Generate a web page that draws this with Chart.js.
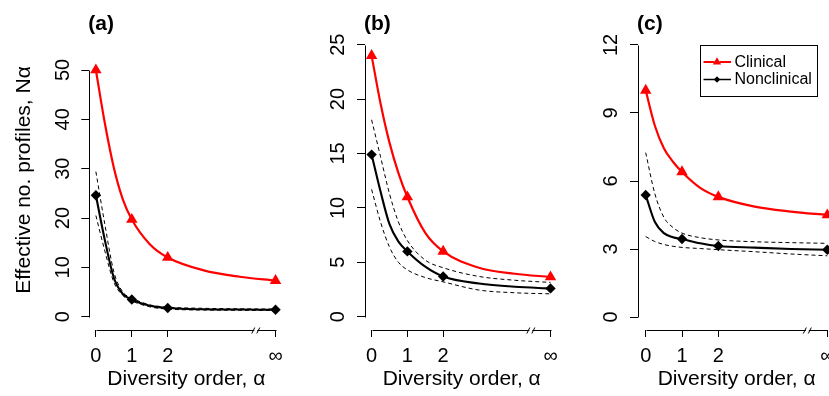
<!DOCTYPE html>
<html><head><meta charset="utf-8">
<script src="https://cdn.jsdelivr.net/npm/chart.js@4.4.1/dist/chart.umd.min.js"></script>
<style>
html,body{margin:0;padding:0;background:#fff;overflow:hidden;width:829px;height:396px;position:relative;}
canvas{position:absolute;top:0;}
</style></head><body>
<canvas id="ca"></canvas><canvas id="cb"></canvas><canvas id="cc"></canvas>
<script>
// ---------------- data ----------------
const panelLabels = ['(a)', '(b)', '(c)'];
const seriesNames = ['Clinical', 'Nonclinical'];
const xTickValues = [0, 1, 2, 5];
const xTickLabels = ['0', '1', '2', '\u221E'];
const breakAt = 4.45;
const xTitle = 'Diversity order, \u03B1';
const yTitle = 'Effective no. profiles, N\u03B1';
const curveAlpha = [0, 0.25, 0.5, 0.75, 1, 1.5, 2, 3, 4, 5];
const markerAlpha = [0, 1, 2, 5];

const yTicksA = [0, 10, 20, 30, 40, 50];
const clinicalCurveA    = [50, 39.2, 30.2, 23.8, 19.7, 14.7, 12.0, 9.4, 8.1, 7.3];
const nonclinicalCurveA = [24.6, 15.5, 7.9, 4.6, 3.5, 2.2, 1.75, 1.5, 1.45, 1.4];
const upperCurveA       = [29.4, 18.7, 9.1, 5.0, 3.8, 2.4, 1.95, 1.7, 1.6, 1.55];
const lowerCurveA       = [20.5, 13.3, 7.0, 4.3, 3.2, 2.0, 1.55, 1.35, 1.3, 1.25];
const clinicalMarkersA    = [50, 19.7, 12.0, 7.3];
const nonclinicalMarkersA = [24.6, 3.5, 1.75, 1.4];

const yTicksB = [0, 5, 10, 15, 20, 25];
const clinicalCurveB    = [24.0, 19.6, 16.0, 13.2, 11.0, 7.7, 6.0, 4.5, 3.95, 3.65];
const nonclinicalCurveB = [14.9, 11.5, 8.5, 6.9, 6.0, 4.6, 3.7, 3.05, 2.75, 2.6];
const upperCurveB       = [18.1, 14.7, 11.3, 8.7, 7.0, 5.2, 4.5, 3.7, 3.35, 3.15];
const lowerCurveB       = [11.7, 8.7, 6.4, 5.0, 4.3, 3.6, 3.2, 2.45, 2.2, 2.1];
const clinicalMarkersB    = [24.0, 11.0, 6.0, 3.65];
const nonclinicalMarkersB = [14.9, 6.0, 3.7, 2.6];

const yTicksC = [0, 3, 6, 9, 12];
const clinicalCurveC    = [10.0, 8.45, 7.45, 6.85, 6.4, 5.7, 5.3, 4.87, 4.65, 4.5];
const nonclinicalCurveC = [5.38, 4.2, 3.7, 3.52, 3.44, 3.25, 3.13, 3.06, 3.0, 2.97];
const upperCurveC       = [7.25, 5.45, 4.4, 3.95, 3.7, 3.5, 3.4, 3.32, 3.28, 3.25];
const lowerCurveC       = [3.55, 3.33, 3.2, 3.12, 3.07, 3.02, 2.97, 2.88, 2.78, 2.7];
const clinicalMarkersC    = [10.0, 6.4, 5.3, 4.5];
const nonclinicalMarkersC = [5.38, 3.44, 3.13, 2.97];

// ---------------- layout / style ----------------
const H = 396, AXIS_Y = 330, AREA_TOP = 30;
const RED = '#FF0000', BLACK = '#000000';
const FONT = "'Liberation Sans', Arial, Helvetica, sans-serif";
Chart.defaults.font.family = FONT;
Chart.defaults.color = BLACK;

const panels = [
  { id: 'ca', label: panelLabels[0], yTicks: yTicksA, clin: clinicalCurveA, non: nonclinicalCurveA, up: upperCurveA, lo: lowerCurveA,
    clinM: clinicalMarkersA, nonM: nonclinicalMarkersA, yTitle: true, legend: false,
    geom: { left: 0, width: 290, axisX: 89.3, zeroX: 96, infX: 279, zeroY: 316.7, topTickY: 70 } },
  { id: 'cb', label: panelLabels[1], yTicks: yTicksB, clin: clinicalCurveB, non: nonclinicalCurveB, up: upperCurveB, lo: lowerCurveB,
    clinM: clinicalMarkersB, nonM: nonclinicalMarkersB, yTitle: false, legend: false,
    geom: { left: 290, width: 275, axisX: 365, zeroX: 371.7, infX: 553.3, zeroY: 316.7, topTickY: 44.7 } },
  { id: 'cc', label: panelLabels[2], yTicks: yTicksC, clin: clinicalCurveC, non: nonclinicalCurveC, up: upperCurveC, lo: lowerCurveC,
    clinM: clinicalMarkersC, nonM: nonclinicalMarkersC, yTitle: false, legend: true,
    geom: { left: 565, width: 300, axisX: 638, zeroX: 645.7, infX: 827.3, zeroY: 317, topTickY: 45 } }
];

function pts(xs, ys) { return xs.map((x, i) => ({ x: x, y: ys[i] })); }

function buildPanel(p) {
  const g = p.geom;
  const canvas = document.getElementById(p.id);
  canvas.width = g.width; canvas.height = H;
  canvas.style.left = g.left + 'px';
  canvas.style.width = g.width + 'px'; canvas.style.height = H + 'px';

  const xLast = xTickValues[xTickValues.length - 1];
  const unitX = (g.infX - g.zeroX) / xLast;
  const areaRight = g.infX + 8;
  const yTop = p.yTicks[p.yTicks.length - 1];
  const unitY = (g.zeroY - g.topTickY) / yTop;
  const xMin = (g.axisX - g.zeroX) / unitX, xMax = (areaRight - g.zeroX) / unitX;
  const yMin = -(AXIS_Y - g.zeroY) / unitY, yMax = (g.zeroY - AREA_TOP) / unitY;

  const datasets = [
    { label: seriesNames[0], data: pts(markerAlpha, p.clinM), showLine: false, pointStyle: 'triangle', pointRadius: 6.6,
      pointBackgroundColor: RED, pointBorderColor: RED, pointBorderWidth: 0, borderColor: RED, backgroundColor: RED, clip: false },
    { label: seriesNames[1], data: pts(markerAlpha, p.nonM), showLine: false, pointStyle: 'rectRot', pointRadius: 5.2,
      pointBackgroundColor: BLACK, pointBorderColor: BLACK, pointBorderWidth: 0, borderColor: BLACK, backgroundColor: BLACK, clip: false },
    { label: 'clin-curve', data: pts(curveAlpha, p.clin), borderColor: RED, borderWidth: 2.2, pointRadius: 0,
      cubicInterpolationMode: 'monotone', fill: false, clip: false },
    { label: 'non-curve', data: pts(curveAlpha, p.non), borderColor: BLACK, borderWidth: 2.1, pointRadius: 0,
      cubicInterpolationMode: 'monotone', fill: false, clip: false },
    { label: 'upper', data: pts(curveAlpha, p.up), borderColor: BLACK, borderWidth: 1, borderDash: [4, 3], pointRadius: 0,
      cubicInterpolationMode: 'monotone', fill: false, clip: false },
    { label: 'lower', data: pts(curveAlpha, p.lo), borderColor: BLACK, borderWidth: 1, borderDash: [4, 3], pointRadius: 0,
      cubicInterpolationMode: 'monotone', fill: false, clip: false }
  ];

  const axesPlugin = {
    id: 'rAxes' + p.id,
    afterDraw(chart) {
      const { ctx, chartArea } = chart;
      const xs = chart.scales.x, ys = chart.scales.y;
      ctx.save();
      ctx.strokeStyle = BLACK; ctx.lineWidth = 1;
      // y axis line (0 .. top tick)
      const ax = Math.floor(chartArea.left) + 0.5;
      ctx.beginPath();
      ctx.moveTo(ax, Math.round(ys.getPixelForValue(p.yTicks[0])) + 0.5);
      ctx.lineTo(ax, Math.round(ys.getPixelForValue(yTop)) + 0.5);
      ctx.stroke();
      // x axis line (0 .. infinity)
      const ay = Math.round(chartArea.bottom) + 0.5;
      const x0 = Math.round(xs.getPixelForValue(xTickValues[0])) + 0.5;
      const x1 = Math.round(xs.getPixelForValue(xLast)) + 0.5;
      ctx.beginPath(); ctx.moveTo(x0, ay); ctx.lineTo(x1, ay); ctx.stroke();
      // axis break "//"
      const bx = xs.getPixelForValue(breakAt);
      ctx.fillStyle = '#fff';
      ctx.fillRect(bx - 1.5, ay - 2, 3, 4);
      ctx.beginPath();
      ctx.moveTo(bx - 4, ay + 3); ctx.lineTo(bx - 1, ay - 3);
      ctx.moveTo(bx + 1, ay + 3); ctx.lineTo(bx + 4, ay - 3);
      ctx.stroke();
      // panel label
      ctx.fillStyle = BLACK;
      ctx.font = 'bold 21px ' + FONT;
      ctx.textAlign = 'left'; ctx.textBaseline = 'middle';
      ctx.fillText(p.label, chartArea.left - 1, 24);
      // legend
      if (p.legend) {
        const lx = 700 - g.left, ly = 45, lw = 117, lh = 51;
        ctx.fillStyle = '#fff'; ctx.fillRect(lx, ly, lw, lh);
        ctx.strokeStyle = BLACK; ctx.lineWidth = 1;
        ctx.strokeRect(Math.round(lx) + 0.5, ly + 0.5, lw, lh);
        const rows = [
          { name: datasets[0].label, color: datasets[0].borderColor, style: datasets[0].pointStyle, r: 4.8, lw: 2, y: 62 },
          { name: datasets[1].label, color: datasets[1].borderColor, style: datasets[1].pointStyle, r: 3, lw: 1.5, y: 79.5 }
        ];
        rows.forEach(rw => {
          ctx.strokeStyle = rw.color; ctx.lineWidth = rw.lw;
          ctx.beginPath(); ctx.moveTo(lx + 3.5, rw.y); ctx.lineTo(lx + 31, rw.y); ctx.stroke();
          Chart.helpers.drawPoint(ctx, { pointStyle: rw.style, radius: rw.r, borderWidth: 0, rotation: 0 }, lx + 17, rw.y);
          ctx.fillStyle = rw.color; ctx.fill();
          ctx.fillStyle = BLACK; ctx.font = '16px ' + FONT;
          ctx.textAlign = 'left'; ctx.textBaseline = 'middle';
          ctx.fillText(rw.name, lx + 34.5, rw.y + 0.5);
        });
      }
      ctx.restore();
    }
  };

  new Chart(canvas, {
    type: 'line',
    data: { datasets: datasets },
    plugins: [axesPlugin],
    options: {
      responsive: false, animation: false, devicePixelRatio: 1,
      layout: { padding: { left: 0, top: AREA_TOP, right: (g.left + g.width) - areaRight, bottom: 0 } },
      plugins: { legend: { display: false }, tooltip: { enabled: false }, title: { display: false } },
      elements: { line: { tension: 0 } },
      scales: {
        x: {
          type: 'linear', min: xMin, max: xMax,
          afterBuildTicks: s => { s.ticks = xTickValues.map(v => ({ value: v })); },
          afterFit: s => { s.height = H - AXIS_Y; },
          ticks: { autoSkip: false, maxRotation: 0, minRotation: 0, padding: 7, color: BLACK, font: { size: 20 },
            callback: v => { const i = xTickValues.indexOf(v); return i >= 0 ? xTickLabels[i] : ''; } },
          grid: { display: true, drawOnChartArea: false, drawTicks: true, tickLength: 7, color: BLACK, lineWidth: 1 },
          border: { display: false },
          title: { display: true, text: xTitle, color: BLACK, font: { size: 21 }, padding: { top: 0, bottom: 4 } }
        },
        y: {
          type: 'linear', min: yMin, max: yMax,
          afterBuildTicks: s => { s.ticks = p.yTicks.map(v => ({ value: v })); },
          afterFit: s => { s.width = g.axisX - g.left; },
          ticks: { autoSkip: false, minRotation: 90, maxRotation: 90, crossAlign: 'center', padding: 7, color: BLACK,
            font: { size: 20 }, callback: v => String(v) },
          grid: { display: true, drawOnChartArea: false, drawTicks: true, tickLength: 8, color: BLACK, lineWidth: 1 },
          border: { display: false },
          title: { display: p.yTitle, text: yTitle, color: BLACK, font: { size: 21 }, padding: { top: 11.7, bottom: 0 } }
        }
      }
    }
  });
}

panels.forEach(buildPanel);
</script>
</body></html>
